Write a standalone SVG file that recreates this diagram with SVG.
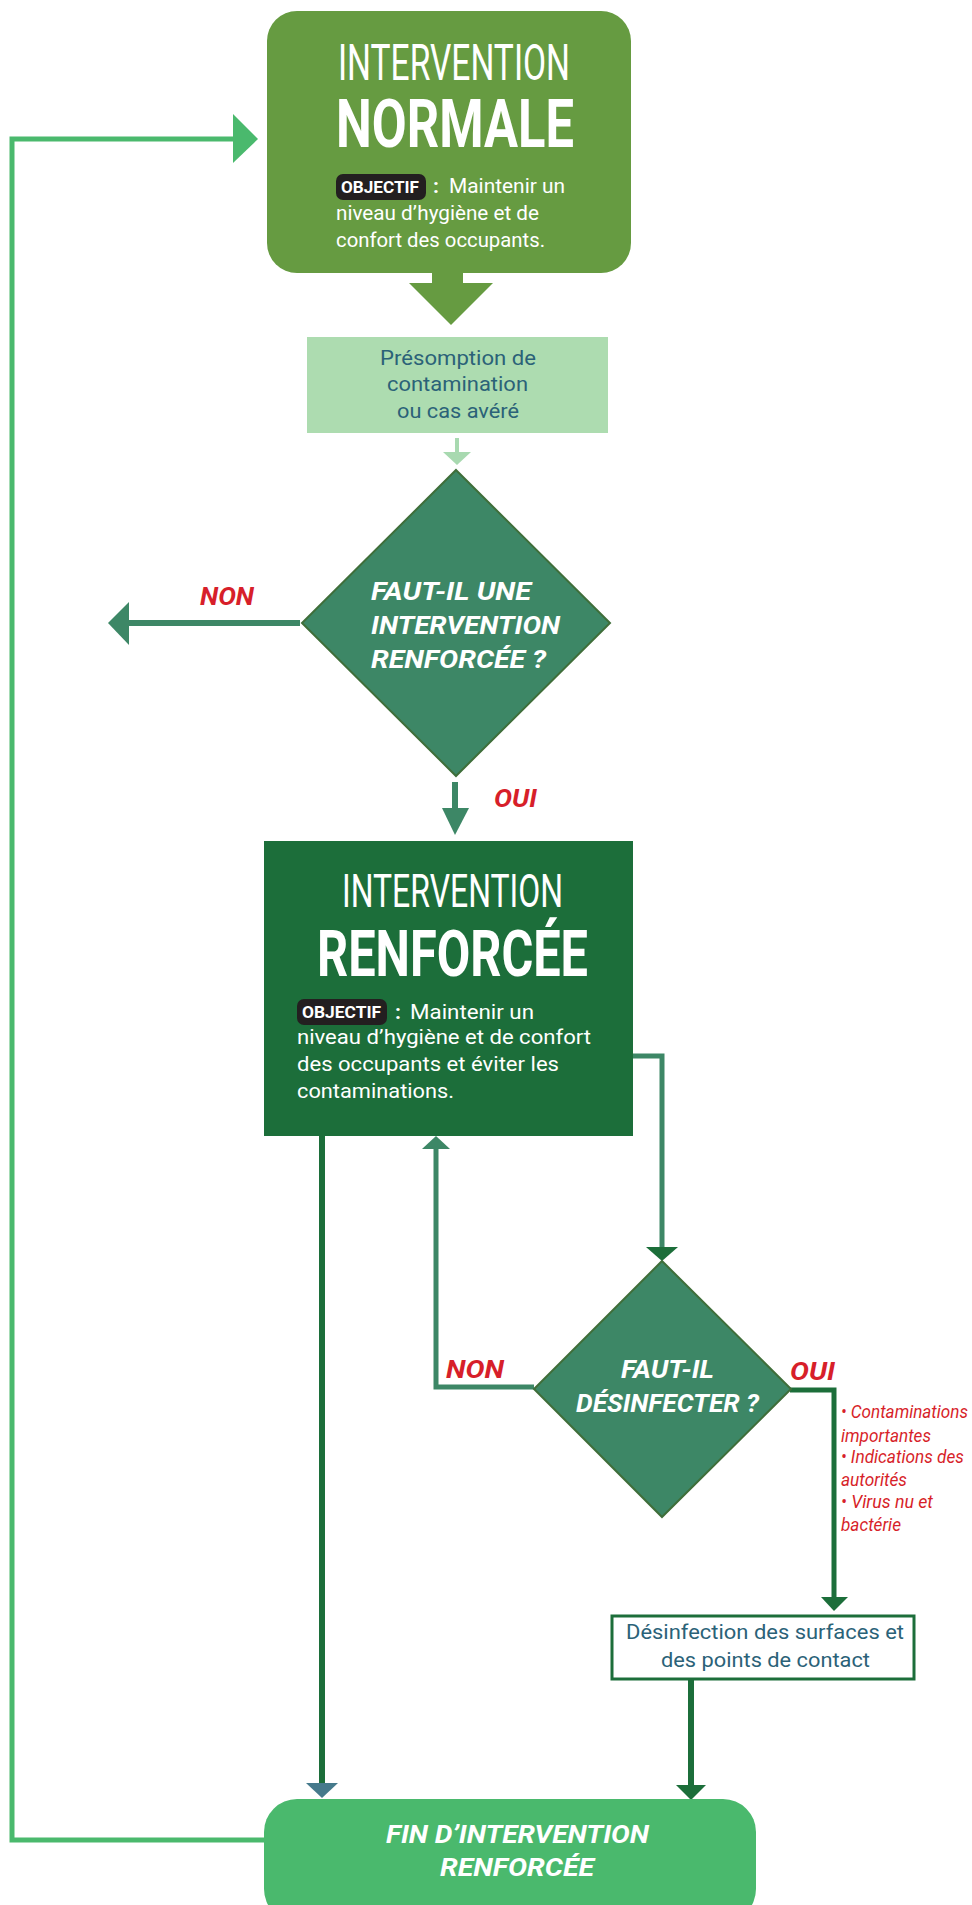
<svg xmlns="http://www.w3.org/2000/svg" width="972" height="1905" viewBox="0 0 972 1905">
<style>
text{font-family:Roboto,"Liberation Sans",sans-serif}
.w{fill:#fff}
.light{font-weight:400}
.bold{font-weight:700}
.body{font-size:21px;fill:#fff}
.badge{fill:#231f20}
.bt{font-size:16px;font-weight:700;fill:#fff}
.q{font-size:26px;font-weight:700;font-style:italic;fill:#fff}
.lbl{font-size:25px;font-weight:700;font-style:italic;fill:#d71f2a}
.bul{font-size:18px;font-style:italic;fill:#d71f2a}
.teal{font-size:21px;fill:#2b6278}
.ln{fill:none;stroke-width:5}
.c-mid{stroke:#3d8766}
.c-dark{stroke:#1c6e3a}
.c-lg{stroke:#4ab96d}
.diam{fill:#3d8766;stroke:#3f6e3a;stroke-width:2}
</style>
<rect x="0" y="0" width="972" height="1905" fill="#fff"/>

<g id="connectors">
  <polygon points="432,272 463,272 463,283 493,283 451,325 409,283 432,283" fill="#669b41"/>
  <line x1="457" y1="438" x2="457" y2="453" stroke="#a8d9b0" stroke-width="4"/>
  <polygon points="443,452 471,452 457,465" fill="#a8d9b0"/>
  <line x1="300" y1="623" x2="126" y2="623" stroke="#3d8766" stroke-width="6"/>
  <polygon points="129,602 129,645 108,623" fill="#3d8766"/>
  <line x1="455" y1="782" x2="455" y2="809" stroke="#3d8766" stroke-width="6"/>
  <polygon points="442,808 469,808 455,835" fill="#3d8766"/>
  <path class="ln c-mid" d="M633,1056 H662 V1248"/>
  <polygon points="646,1247 678,1247 662,1261" fill="#1c6e3a"/>
  <path class="ln c-mid" d="M534,1387 H436 V1148"/>
  <polygon points="422,1149 450,1149 436,1136" fill="#3d8766"/>
  <path class="ln c-dark" d="M790,1390 H834 V1598"/>
  <polygon points="821,1597 848,1597 834,1611" fill="#1c6e3a"/>
  <line x1="691" y1="1680" x2="691" y2="1786" stroke="#1c6e3a" stroke-width="6"/>
  <polygon points="676,1785 706,1785 691,1800" fill="#1c6e3a"/>
  <line x1="322" y1="1136" x2="322" y2="1784" stroke="#1c6e3a" stroke-width="6"/>
  <polygon points="306,1783 338,1783 322,1798" fill="#467a8c"/>
  <path class="ln c-lg" d="M264,1840 H12 V139 H234"/>
  <polygon points="233,114 233,163 258,139" fill="#4ab96d"/>
</g>

<g id="node-normale">
  <rect x="267" y="11" width="364" height="262" rx="30" fill="#669b41"/>
  <text class="w light" x="338" y="80" font-size="50" textLength="232" lengthAdjust="spacingAndGlyphs">INTERVENTION</text>
  <text class="w bold" x="336" y="147" font-size="66" textLength="238" lengthAdjust="spacingAndGlyphs">NORMALE</text>
  <rect class="badge" x="336" y="174" width="90" height="26" rx="7"/>
  <text class="bt" x="341" y="193" textLength="78" lengthAdjust="spacingAndGlyphs">OBJECTIF</text>
  <text class="body bold" x="433" y="193" font-size="22">:</text>
  <text class="body" x="449" y="193" textLength="116" lengthAdjust="spacingAndGlyphs">Maintenir un</text>
  <text class="body" x="336" y="220" textLength="203" lengthAdjust="spacingAndGlyphs">niveau d’hygiène et de</text>
  <text class="body" x="336" y="247" textLength="209" lengthAdjust="spacingAndGlyphs">confort des occupants.</text>
</g>

<g id="node-presomption">
  <rect x="307" y="337" width="301" height="96" fill="#addcb0"/>
  <text class="teal" x="380" y="365" textLength="156" lengthAdjust="spacingAndGlyphs">Présomption de</text>
  <text class="teal" x="387" y="391" textLength="141" lengthAdjust="spacingAndGlyphs">contamination</text>
  <text class="teal" x="397" y="418" textLength="122" lengthAdjust="spacingAndGlyphs">ou cas avéré</text>
</g>

<g id="node-question1">
  <polygon class="diam" points="456,470 610,623 456,776 302,623"/>
  <text class="q" x="371" y="600" textLength="160" lengthAdjust="spacingAndGlyphs">FAUT-IL UNE</text>
  <text class="q" x="371" y="634" textLength="189" lengthAdjust="spacingAndGlyphs">INTERVENTION</text>
  <text class="q" x="371" y="668" textLength="175" lengthAdjust="spacingAndGlyphs">RENFORCÉE ?</text>
</g>

<g id="label-non1">
  <text class="lbl" x="200" y="605" textLength="54" lengthAdjust="spacingAndGlyphs">NON</text>
</g>
<g id="label-oui1">
  <text class="lbl" x="494" y="807" textLength="43" lengthAdjust="spacingAndGlyphs">OUI</text>
</g>

<g id="node-renforcee">
  <rect x="264" y="841" width="369" height="295" fill="#1c6e3a"/>
  <text class="w light" x="342" y="907" font-size="47" textLength="221" lengthAdjust="spacingAndGlyphs">INTERVENTION</text>
  <text class="w bold" x="317" y="976" font-size="64" textLength="271" lengthAdjust="spacingAndGlyphs">RENFORCÉE</text>
  <rect class="badge" x="297" y="999" width="90" height="26" rx="7"/>
  <text class="bt" x="302" y="1018" textLength="79" lengthAdjust="spacingAndGlyphs">OBJECTIF</text>
  <text class="body bold" x="395" y="1019" font-size="22">:</text>
  <text class="body" x="410" y="1019" textLength="124" lengthAdjust="spacingAndGlyphs">Maintenir un</text>
  <text class="body" x="297" y="1044" textLength="294" lengthAdjust="spacingAndGlyphs">niveau d’hygiène et de confort</text>
  <text class="body" x="297" y="1071" textLength="262" lengthAdjust="spacingAndGlyphs">des occupants et éviter les</text>
  <text class="body" x="297" y="1098" textLength="157" lengthAdjust="spacingAndGlyphs">contaminations.</text>
</g>

<g id="node-question2">
  <polygon class="diam" points="662,1261 791,1389 662,1517 534,1389"/>
  <text class="q" x="621" y="1378" textLength="93" lengthAdjust="spacingAndGlyphs">FAUT-IL</text>
  <text class="q" x="576" y="1412" textLength="183" lengthAdjust="spacingAndGlyphs">DÉSINFECTER ?</text>
</g>

<g id="label-non2">
  <text class="lbl" x="446" y="1378" textLength="58" lengthAdjust="spacingAndGlyphs">NON</text>
</g>
<g id="label-oui2">
  <text class="lbl" x="790" y="1380" textLength="45" lengthAdjust="spacingAndGlyphs">OUI</text>
</g>

<g id="conditions">
  <text class="bul" x="841" y="1418" textLength="127" lengthAdjust="spacingAndGlyphs">• Contaminations</text>
  <text class="bul" x="841" y="1442" textLength="90" lengthAdjust="spacingAndGlyphs">importantes</text>
  <text class="bul" x="841" y="1463" textLength="123" lengthAdjust="spacingAndGlyphs">• Indications des</text>
  <text class="bul" x="841" y="1486" textLength="66" lengthAdjust="spacingAndGlyphs">autorités</text>
  <text class="bul" x="841" y="1508" textLength="92" lengthAdjust="spacingAndGlyphs">• Virus nu et</text>
  <text class="bul" x="841" y="1531" textLength="60" lengthAdjust="spacingAndGlyphs">bactérie</text>
</g>

<g id="node-desinfection">
  <rect x="612" y="1616" width="302" height="63" fill="#fff" stroke="#1c6e3a" stroke-width="3"/>
  <text class="teal" x="626" y="1639" font-size="20" textLength="278" lengthAdjust="spacingAndGlyphs">Désinfection des surfaces et</text>
  <text class="teal" x="661" y="1667" font-size="20" textLength="209" lengthAdjust="spacingAndGlyphs">des points de contact</text>
</g>

<g id="node-fin">
  <rect x="264" y="1799" width="492" height="123" rx="33" fill="#4ab96d"/>
  <text class="q" x="386" y="1843" textLength="263" lengthAdjust="spacingAndGlyphs">FIN D’INTERVENTION</text>
  <text class="q" x="440" y="1876" textLength="154" lengthAdjust="spacingAndGlyphs">RENFORCÉE</text>
</g>
</svg>
